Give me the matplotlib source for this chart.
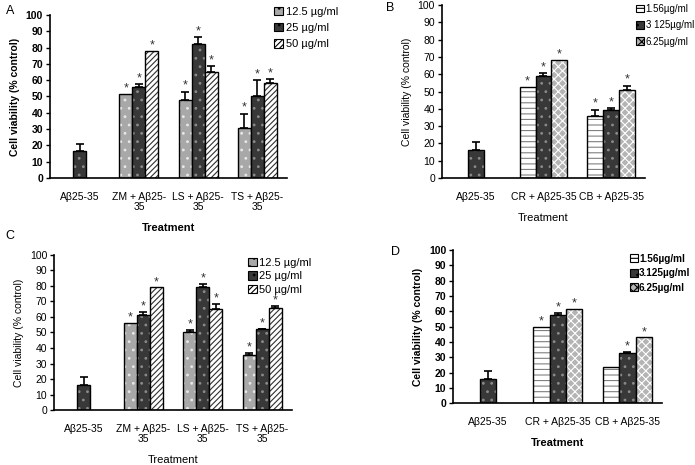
import numpy as np
import matplotlib.pyplot as plt

plt.rcParams['font.family'] = ['Liberation Sans', 'DejaVu Sans']
plt.rcParams['hatch.linewidth'] = 0.8

nan = np.nan

# Panel A
a_cats = ['Aβ25-35', 'ZM + Aβ25-\n35', 'LS + Aβ25-\n35', 'TS + Aβ25-\n35']
a_labels = ['12.5 µg/ml', '25 µg/ml', '50 µg/ml']
a_vals = [[nan, 51.5, 48.0, 30.5],
          [16.5, 56.0, 82.0, 50.0],
          [nan, 78.0, 65.0, 58.5]]
a_errs = [[0, 0, 5.0, 9.0],
          [4.5, 1.5, 4.5, 10.0],
          [0, 0, 3.5, 2.0]]
a_star = [[0, 1, 1, 1], [0, 1, 1, 1], [0, 1, 1, 1]]

# Panel B
b_cats = ['Aβ25-35', 'CR + Aβ25-35', 'CB + Aβ25-35']
b_labels = ['1.56µg/ml', '3 125µg/ml', '6.25µg/ml']
b_vals = [[nan, 52.5, 36.0],
          [16.5, 59.0, 39.5],
          [nan, 68.0, 51.0]]
b_errs = [[0, 0, 3.5],
          [4.5, 1.5, 1.0],
          [0, 0, 2.5]]
b_star = [[0, 1, 1], [0, 1, 1], [0, 1, 1]]

# Panel C
c_cats = a_cats
c_labels = ['12.5 µg/ml', '25 µg/ml', '50 µg/ml']
c_vals = [[nan, 56.0, 50.0, 35.5],
          [16.5, 61.5, 79.5, 52.0],
          [nan, 79.0, 65.0, 65.5]]
c_errs = [[0, 0, 1.5, 1.5],
          [5.0, 1.5, 1.5, 0.5],
          [0, 0, 3.5, 1.5]]
c_star = [[0, 1, 1, 1], [0, 1, 1, 1], [0, 1, 1, 1]]

# Panel D
d_cats = b_cats
d_labels = ['1.56µg/ml', '3.125µg/ml', '6.25µg/ml']
d_vals = [[nan, 50.0, 23.5],
          [16.0, 57.5, 33.0],
          [nan, 61.5, 43.0]]
d_errs = [[0, 0, 0],
          [5.0, 1.5, 0.5],
          [0, 0, 0]]
d_star = [[0, 1, 0], [0, 1, 1], [0, 1, 1]]

# fill, hatch, hatch colour for each series
style_a = [('#a8a8a8', '..', '#e8e8e8'),
           ('#383838', '..', '#8a8a8a'),
           ('white', '//////', '#303030')]
style_b = [('white', '---', '#808080'),
           ('#383838', '..', '#8a8a8a'),
           ('#b4b4b4', 'xxxx', '#ffffff')]


def draw_panel(ax, cats, vals, errs, stars, styles, width, bold, letter, letter_xy, fig):
    x = np.arange(len(cats))
    handles = []
    for i in range(3):
        fc, hatch, hc = styles[i]
        off = (i - 1) * width
        v = np.array(vals[i], dtype=float)
        ax.bar(x + off, v, width, color=fc, hatch=hatch, edgecolor=hc, linewidth=0)
        ax.bar(x + off, v, width, fill=False, edgecolor='black', linewidth=1.0)
        handles.append(plt.Rectangle((0, 0), 1, 1, facecolor=fc, hatch=hatch, edgecolor='black', linewidth=0.8))
        e = np.array(errs[i], dtype=float)
        ok = ~np.isnan(v) & (e > 0)
        ax.errorbar(x[ok] + off, v[ok], yerr=[np.zeros(ok.sum()), e[ok]], fmt='none',
                     ecolor='black', elinewidth=1.2, capsize=3, capthick=1.2)
        for j in range(len(cats)):
            if stars[i][j] and not np.isnan(v[j]):
                ax.text(x[j] + off, v[j] + e[j] + 3.5, '*', ha='center', va='center',
                        fontsize=9, color='#333333')
    ax.set_ylim(0, 100)
    ax.set_xlim(-0.5, len(cats) - 0.5)
    ax.set_yticks(np.arange(0, 101, 10))
    ax.set_xticks(x)
    ax.set_xticklabels(cats, fontsize=7.5, linespacing=1.0)
    for t in ax.get_yticklabels():
        t.set_fontsize(7.5)
        if bold:
            t.set_fontweight('bold')
    ax.tick_params(axis='x', length=0, pad=10)
    ax.tick_params(axis='y', length=3, width=1, pad=2)
    for s in ['top', 'right']:
        ax.spines[s].set_visible(False)
    for s in ['left', 'bottom']:
        ax.spines[s].set_linewidth(1.2)
    fw = 'bold' if bold else 'normal'
    ax.set_ylabel('Cell viability (% control)', fontsize=7.5, fontweight=fw, labelpad=4)
    ax.set_xlabel('Treatment', fontsize=8, fontweight=fw, labelpad=8)
    fig.text(letter_xy[0], letter_xy[1], letter, fontsize=9, ha='left', va='top')
    return handles


fig = plt.figure(figsize=(6.95, 4.65), dpi=100)

axA = fig.add_axes([0.072, 0.617, 0.341, 0.351])
hA = draw_panel(axA, a_cats, a_vals, a_errs, a_star, style_a, 0.22, True, 'A', (0.008, 0.99), fig)
axA.legend(hA, a_labels, loc='upper left', bbox_to_anchor=(0.388, 0.995), bbox_transform=fig.transFigure,
           frameon=False, fontsize=8, handlelength=0.8, handleheight=0.8, handletextpad=0.3, labelspacing=0.55,
           borderaxespad=0)

axB = fig.add_axes([0.636, 0.617, 0.292, 0.372])
hB = draw_panel(axB, b_cats, b_vals, b_errs, b_star, style_b, 0.235, False, 'B', (0.556, 0.995), fig)
axB.legend(hB, b_labels, loc='upper left', bbox_to_anchor=(0.91, 1.0), bbox_transform=fig.transFigure,
           frameon=False, fontsize=7, handlelength=0.8, handleheight=0.8, handletextpad=0.15, labelspacing=0.65,
           borderaxespad=0)

axC = fig.add_axes([0.078, 0.118, 0.342, 0.334])
hC = draw_panel(axC, c_cats, c_vals, c_errs, c_star, style_a, 0.22, False, 'C', (0.008, 0.505), fig)
axC.legend(hC, c_labels, loc='upper left', bbox_to_anchor=(0.35, 0.455), bbox_transform=fig.transFigure,
           frameon=False, fontsize=8, handlelength=0.8, handleheight=0.8, handletextpad=0.2, labelspacing=0.3,
           borderaxespad=0)

axD = fig.add_axes([0.652, 0.133, 0.301, 0.329])
hD = draw_panel(axD, d_cats, d_vals, d_errs, d_star, style_b, 0.235, True, 'D', (0.562, 0.47), fig)
for t in axD.get_xticklabels():
    t.set_fontweight('normal')
legD = axD.legend(hD, d_labels, loc='upper left', bbox_to_anchor=(0.9, 0.463), bbox_transform=fig.transFigure,
                  frameon=False, fontsize=7.2, handlelength=0.8, handleheight=0.8, handletextpad=0.15,
                  labelspacing=0.45, borderaxespad=0)
for t in legD.get_texts():
    t.set_fontweight('bold')

fig.savefig('out.png', dpi=100)
